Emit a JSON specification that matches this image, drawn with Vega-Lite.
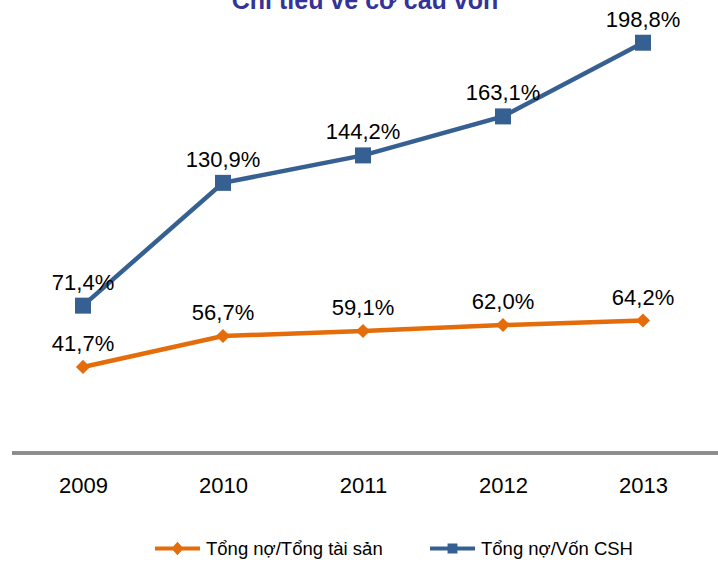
{
  "$schema": "https://vega.github.io/schema/vega-lite/v6.json",
  "width": 706,
  "height": 453,
  "autosize": {"type": "none"},
  "padding": {"left": 12, "top": 0, "right": 0, "bottom": 110},
  "config": {
    "view": {"stroke": null},
    "font": "Liberation Sans",
    "locale": {"number": {"decimal": ",", "thousands": ".", "grouping": [3], "currency": ["", ""]}}
  },
  "title": {
    "text": "Chỉ tiêu về cơ cấu vốn",
    "font": "Liberation Sans",
    "fontWeight": "bold",
    "fontSize": 25,
    "color": "#333399",
    "baseline": "alphabetic",
    "offset": 0,
    "dy": 34,
    "anchor": "middle"
  },
  "data": {
    "values": [
      {"year": "2009", "series": "Tổng nợ/Tổng tài sản", "value": 0.417},
      {"year": "2010", "series": "Tổng nợ/Tổng tài sản", "value": 0.567},
      {"year": "2011", "series": "Tổng nợ/Tổng tài sản", "value": 0.591},
      {"year": "2012", "series": "Tổng nợ/Tổng tài sản", "value": 0.620},
      {"year": "2013", "series": "Tổng nợ/Tổng tài sản", "value": 0.642},
      {"year": "2009", "series": "Tổng nợ/Vốn CSH", "value": 0.714},
      {"year": "2010", "series": "Tổng nợ/Vốn CSH", "value": 1.309},
      {"year": "2011", "series": "Tổng nợ/Vốn CSH", "value": 1.442},
      {"year": "2012", "series": "Tổng nợ/Vốn CSH", "value": 1.631},
      {"year": "2013", "series": "Tổng nợ/Vốn CSH", "value": 1.988}
    ]
  },
  "layer": [
    {
      "mark": {"type": "rule", "color": "#8c8c8c", "strokeWidth": 2.5},
      "encoding": {"y": {"datum": 0, "type": "quantitative", "scale": {"domain": [0, 2.195]}, "axis": null}}
    },
    {
      "transform": [{"filter": "datum.series === 'Tổng nợ/Tổng tài sản'"}],
      "mark": {"type": "line", "strokeWidth": 4.5, "point": {"shape": "diamond", "size": 200, "filled": true}},
      "encoding": {
        "x": {"field": "year", "type": "ordinal", "scale": {"type": "point", "range": [71, 631], "padding": 0},
          "axis": {"title": null, "domain": false, "ticks": false, "labelFontSize": 22, "labelColor": "black", "labelPadding": 22, "labelAngle": 0}},
        "y": {"field": "value", "type": "quantitative", "scale": {"domain": [0, 2.195]}, "axis": null},
        "color": {"field": "series", "type": "nominal",
          "scale": {"domain": ["Tổng nợ/Tổng tài sản"], "range": ["#E46C0A"]},
          "legend": {"orient": "none", "legendX": 143, "legendY": 526, "title": null,
            "symbolType": "M-1,-0.09H1V0.09H-1Z M0,-0.3L0.27,0L0,0.3L-0.27,0Z",
            "symbolSize": 2025, "symbolFillColor": "#E46C0A", "symbolStrokeColor": "#E46C0A", "symbolStrokeWidth": 0,
            "labelFontSize": 18.5, "labelColor": "black", "labelOffset": 6, "labelLimit": 400,
            "padding": 0}
        }
      }
    },
    {
      "transform": [{"filter": "datum.series === 'Tổng nợ/Vốn CSH'"}],
      "mark": {"type": "line", "strokeWidth": 4.5, "point": {"shape": "square", "size": 256, "filled": true}},
      "encoding": {
        "x": {"field": "year", "type": "ordinal", "scale": {"type": "point", "range": [71, 631], "padding": 0}},
        "y": {"field": "value", "type": "quantitative", "scale": {"domain": [0, 2.195]}, "axis": null},
        "color": {"field": "series", "type": "nominal",
          "scale": {"domain": ["Tổng nợ/Vốn CSH"], "range": ["#376092"]},
          "legend": {"orient": "none", "legendX": 418, "legendY": 526, "title": null,
            "symbolType": "M-1,-0.09H1V0.09H-1Z M-0.22,-0.22H0.22V0.22H-0.22Z",
            "symbolSize": 2025, "symbolFillColor": "#376092", "symbolStrokeColor": "#376092", "symbolStrokeWidth": 0,
            "labelFontSize": 18.5, "labelColor": "black", "labelOffset": 6, "labelLimit": 400,
            "padding": 0}
        }
      }
    },
    {
      "mark": {"type": "text", "fontSize": 22, "dy": -23, "color": "black"},
      "encoding": {
        "x": {"field": "year", "type": "ordinal", "scale": {"type": "point", "range": [71, 631], "padding": 0}},
        "y": {"field": "value", "type": "quantitative", "scale": {"domain": [0, 2.195]}, "axis": null},
        "text": {"field": "value", "type": "quantitative", "format": ".1%"}
      }
    }
  ],
  "resolve": {"scale": {"color": "independent"}}
}
